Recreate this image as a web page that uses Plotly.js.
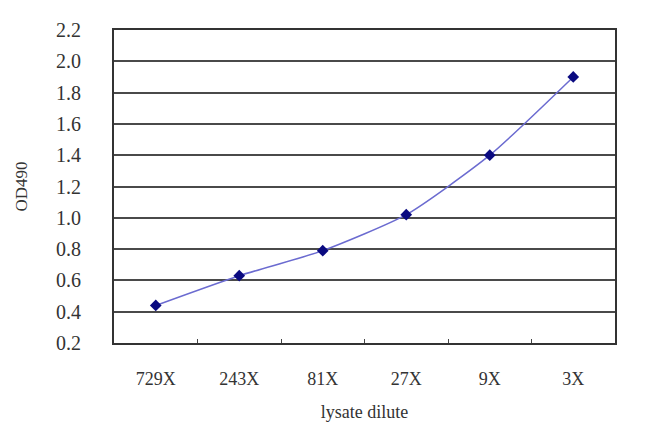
<!DOCTYPE html>
<html>
<head>
<meta charset="utf-8">
<script src="https://cdn.plot.ly/plotly-3.0.1.min.js"></script>
<style>html,body{margin:0;padding:0;background:#fff;}#chart{width:650px;height:433px;}</style>
</head>
<body>
<div id="chart"></div>
<script>
var categories = ["729X", "243X", "81X", "27X", "9X", "3X"];
var od490 = [0.44, 0.63, 0.79, 1.02, 1.40, 1.90];
var yTicks = [0.2, 0.4, 0.6, 0.8, 1.0, 1.2, 1.4, 1.6, 1.8, 2.0, 2.2];

var fontFam = "Liberation Serif, DejaVu Serif, serif";

var trace = {
  x: categories,
  y: od490,
  type: "scatter",
  mode: "lines+markers",
  line: {shape: "spline", smoothing: 0.6, color: "#6b6bd0", width: 1.5},
  marker: {symbol: "diamond", size: 9, color: "#0a0a80"},
  hoverinfo: "skip"
};

var layout = {
  width: 650, height: 433,
  margin: {l: 114, r: 35, t: 30, b: 90},
  paper_bgcolor: "#fff", plot_bgcolor: "#fff",
  showlegend: false,
  font: {family: fontFam, color: "#333", size: 16},
  xaxis: {
    type: "category",
    range: [-0.5, categories.length - 0.5],
    tickson: "boundaries",
    ticks: "inside", ticklen: 4, tickcolor: "#444", tickwidth: 1,
    showgrid: false,
    showline: true, linecolor: "#333", linewidth: 2, mirror: true,
    tickfont: {family: fontFam, size: 18, color: "#333"},
    ticklabelstandoff: 18,
    title: {text: "lysate dilute", font: {family: fontFam, size: 18, color: "#333"}, standoff: 18},
    automargin: false,
    zeroline: false
  },
  yaxis: {
    range: [0.2, 2.2],
    tickvals: yTicks,
    ticktext: yTicks.map(function(v){return v.toFixed(1);}),
    showgrid: true, gridcolor: "#4a4a4a", gridwidth: 2,
    showline: true, linecolor: "#333", linewidth: 2, mirror: true,
    ticks: "",
    ticklabelstandoff: 27,
    tickfont: {family: fontFam, size: 20, color: "#333"},
    title: {text: "OD490", font: {family: fontFam, size: 17, color: "#333"}, standoff: 24},
    automargin: false,
    zeroline: false
  }
};

Plotly.newPlot("chart", [trace], layout, {displayModeBar: false, staticPlot: true});
</script>
</body>
</html>
